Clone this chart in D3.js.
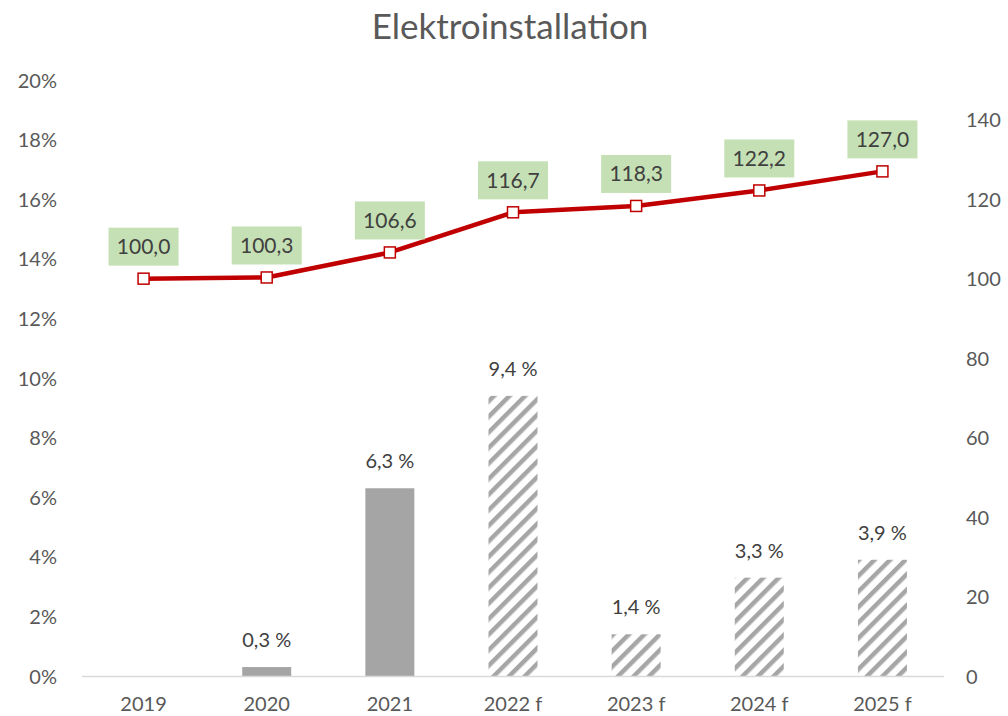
<!DOCTYPE html>
<html><head><meta charset="utf-8">
<script src="https://cdn.jsdelivr.net/npm/d3@7"></script>
<style>
html,body{margin:0;padding:0;background:#fff;}
svg{display:block;font-family:Lato,"Open Sans",sans-serif;}
</style></head>
<body>
<svg id="chart" width="1008" height="716"></svg>
<script>
const title = "Elektroinstallation";
const years = ["2019","2020","2021","2022 f","2023 f","2024 f","2025 f"];
const growth = [null, 0.3, 6.3, 9.4, 1.4, 3.3, 3.9];
const forecast = [false, false, false, true, true, true, true];
const indexValues = [100.0, 100.3, 106.6, 116.7, 118.3, 122.2, 127.0];
const leftTicks = [0, 2, 4, 6, 8, 10, 12, 14, 16, 18, 20];
const rightTicks = [0, 20, 40, 60, 80, 100, 120, 140];

const svg = d3.select("#chart");
const fmt = v => v.toFixed(1).replace(".", ",");

const x = d3.scaleBand().domain(years).range([82, 944]);
const yL = d3.scaleLinear().domain([0, 20]).range([676, 80]);
const yR = d3.scaleLinear().domain([0, 150]).range([676, 80]);

// hatch pattern
const defs = svg.append("defs");
const pat = defs.append("pattern").attr("id","hatch").attr("patternUnits","userSpaceOnUse")
  .attr("width", 11).attr("height", 11).attr("patternTransform","rotate(45)");
pat.append("rect").attr("width",11).attr("height",11).attr("fill","#fff");
pat.append("rect").attr("x",0).attr("y",0).attr("width",4.5).attr("height",11).attr("fill","#a6a6a6");

// title
svg.append("text").attr("x", 510).attr("y", 39).attr("text-anchor","middle")
  .attr("font-size", 35).attr("fill","#595959").text(title);

// left axis
const axL = d3.axisLeft(yL).tickValues(leftTicks).tickSize(0).tickPadding(0).tickFormat(d => d + "%");
const gL = svg.append("g").attr("transform","translate(57,0)").call(axL);
gL.select(".domain").remove();
gL.selectAll("text").attr("font-size",20).attr("fill","#595959").attr("font-family","Lato").attr("dy","0.35em");

// right axis
const axR = d3.axisRight(yR).tickValues(rightTicks).tickSize(0).tickPadding(0);
const gR = svg.append("g").attr("transform","translate(966,0)").call(axR);
gR.select(".domain").remove();
gR.selectAll("text").attr("font-size",20).attr("fill","#595959").attr("font-family","Lato").attr("dy","0.35em");

// bars
const barW = 49;
const barData = years.map((y,i) => ({year:y, v:growth[i], f:forecast[i]})).filter(d => d.v !== null);
svg.append("g").selectAll("rect").data(barData).join("rect")
  .attr("x", d => x(d.year) + x.bandwidth()/2 - barW/2)
  .attr("width", barW)
  .attr("y", d => yL(d.v))
  .attr("height", d => yL(0) - yL(d.v))
  .attr("fill", d => d.f ? "url(#hatch)" : "#a5a5a5");

svg.append("g").selectAll("text").data(barData).join("text")
  .attr("x", d => x(d.year) + x.bandwidth()/2)
  .attr("y", d => yL(d.v) - 20)
  .attr("text-anchor","middle").attr("font-size",20).attr("fill","#404040")
  .text(d => fmt(d.v) + " %");

// x axis line
svg.append("line").attr("x1",82).attr("x2",944).attr("y1",yL(0)+0.5).attr("y2",yL(0)+0.5)
  .attr("stroke","#d9d9d9").attr("stroke-width",1.3);

// x labels
const axB = d3.axisBottom(x).tickSize(0).tickPadding(0);
const gB = svg.append("g").attr("transform","translate(0,711)").call(axB);
gB.select(".domain").remove();
gB.selectAll("text").attr("font-size",20).attr("fill","#595959").attr("font-family","Lato").attr("dy","0");

// line
const lineData = years.map((y,i) => ({year:y, v:indexValues[i]}));
const line = d3.line().x(d => x(d.year) + x.bandwidth()/2).y(d => yR(d.v));
svg.append("path").datum(lineData).attr("d", line).attr("fill","none")
  .attr("stroke","#c00000").attr("stroke-width",4.5).attr("stroke-linejoin","round");

svg.append("g").selectAll("rect").data(lineData).join("rect")
  .attr("x", d => x(d.year) + x.bandwidth()/2 - 5.5)
  .attr("y", d => yR(d.v) - 5.5)
  .attr("width",11).attr("height",11)
  .attr("fill","#fff").attr("stroke","#c00000").attr("stroke-width",1.5);

// line labels
const lbl = svg.append("g").selectAll("g").data(lineData).join("g")
  .attr("transform", d => `translate(${x(d.year) + x.bandwidth()/2},${yR(d.v) - 32})`);
lbl.append("rect").attr("x",-35).attr("y",-19).attr("width",70).attr("height",38).attr("fill","#c5e0b4");
lbl.append("text").attr("text-anchor","middle").attr("dy","0.35em").attr("font-size",21).attr("fill","#404040")
  .text(d => fmt(d.v));
</script>
</body></html>
